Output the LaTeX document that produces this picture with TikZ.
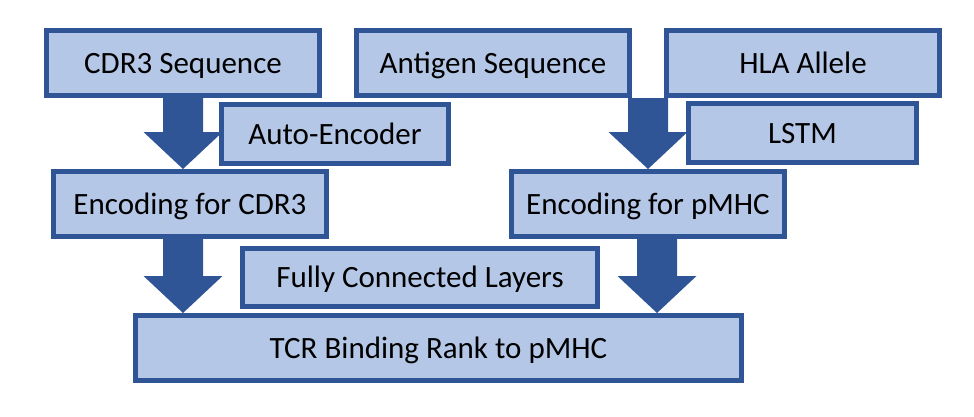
\documentclass[tikz,border=0pt]{standalone}
\usepackage{fontspec}
\setmainfont{Carlito}
\usetikzlibrary{calc,backgrounds}
\definecolor{boxfill}{HTML}{B4C7E7}
\definecolor{boxline}{HTML}{2F5597}
\tikzset{
  stagebox/.style={draw=boxline, fill=boxfill, line width=5pt, inner sep=0pt,
    minimum height=65pt, text height=24pt, text depth=4pt,
    font=\fontsize{31}{37}\selectfont},
  flowarrow/.style={fill=boxline},
}
% block arrow from start point #1 to tip point #2 (vertical)
\newcommand\blockarrow[2]{%
  \fill[flowarrow] let \p1=#1, \p2=#2 in
    (\x1-20pt,\y1) -- (\x1+20pt,\y1) -- (\x1+20pt,\y2+37pt) -- (\x1+39.5pt,\y2+37pt)
    -- (\x1,\y2) -- (\x1-39.5pt,\y2+37pt) -- (\x1-20pt,\y2+37pt) -- cycle;}
\begin{document}
\begin{tikzpicture}[x=1pt,y=-1pt]
\useasboundingbox (0,0) rectangle (974,416);
% boxes
\node[stagebox, minimum width=273pt] (cdr3) at (183,63) {CDR3 Sequence};
\node[stagebox, minimum width=273pt] (antigen) at (493,63) {Antigen Sequence};
\node[stagebox, minimum width=273pt] (hla) at (803,63) {HLA Allele};
\node[stagebox, minimum width=227pt, minimum height=59pt] (auto) at (335,134) {Auto-Encoder};
\node[stagebox, minimum width=228pt, minimum height=59pt] (lstm) at (802.5,133) {LSTM};
\node[stagebox, minimum width=273pt] (encA) at (190,204) {Encoding for CDR3};
\node[stagebox, minimum width=273pt] (encB) at (648,204) {Encoding for pMHC};
\node[stagebox, minimum width=355pt, minimum height=58pt] (fc) at (420,277.5) {Fully Connected Layers};
\node[stagebox, minimum width=606pt] (tcr) at (438.5,348) {TCR Binding Rank to pMHC};
% arrows behind the boxes
\begin{scope}[on background layer]
\coordinate (a3s) at ($(antigen.south east)!0.5!(hla.south west)$);
\coordinate (a4s) at ($(encB.south)+(9,0)$);
\blockarrow{(cdr3.south)}{(cdr3.south |- encA.north)}
\blockarrow{(encA.south -| cdr3.south)}{(tcr.north -| cdr3.south)}
\blockarrow{(a3s)}{(a3s |- encB.north)}
\blockarrow{(a4s)}{(a4s |- tcr.north)}
\end{scope}
\end{tikzpicture}
\end{document}
